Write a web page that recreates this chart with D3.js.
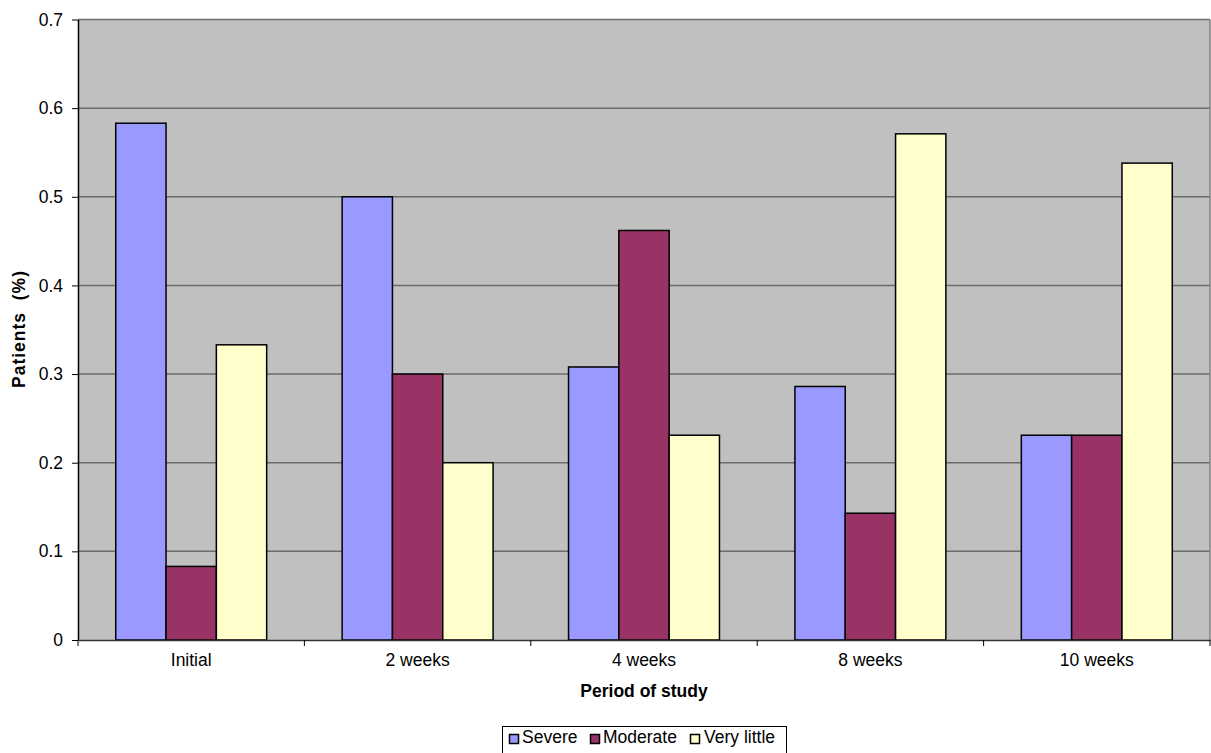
<!DOCTYPE html>
<html><head><meta charset="utf-8">
<script src="https://cdn.jsdelivr.net/npm/d3@7"></script>
<style>body{margin:0;background:#fff}svg{display:block}text{font-family:Arial,"Liberation Sans",sans-serif}</style>
</head><body>
<svg id="c" width="1211" height="753"></svg>
<script>
const categories = ["Initial","2 weeks","4 weeks","8 weeks","10 weeks"];
const seriesNames = ["Severe","Moderate","Very little"];
const severe = [0.583,0.5,0.308,0.286,0.231];
const moderate = [0.083,0.3,0.462,0.143,0.231];
const veryLittle = [0.333,0.2,0.231,0.571,0.538];
const colors = ["#9999FF","#993366","#FFFFCC"];
const yTicks = [0,0.1,0.2,0.3,0.4,0.5,0.6,0.7];

const series = [severe, moderate, veryLittle];
const FS = 17.5;
const svg = d3.select("#c");
const L=78, R=1210, T=19.5, B=640;
const x = d3.scaleBand().domain(categories).range([L,R]);
const y = d3.scaleLinear().domain([0,0.7]).range([B,T]);

svg.append("rect").attr("x",L).attr("y",T).attr("width",R-L).attr("height",B-T).attr("fill","#C0C0C0");
svg.append("g").selectAll("line").data(yTicks.slice(1)).join("line")
 .attr("x1",L).attr("x2",R).attr("y1",d=>y(d)).attr("y2",d=>y(d))
 .attr("stroke","#6b6b6b").attr("stroke-width",1.5);
svg.append("line").attr("x1",R).attr("x2",R).attr("y1",T).attr("y2",B).attr("stroke","#808080").attr("stroke-width",1.5);

const bw = x.bandwidth()/4.5;
const g = svg.append("g");
categories.forEach((c,i)=>{
  series.forEach((s,k)=>{
    g.append("rect")
     .attr("x", x(c) + bw*0.75 + k*bw)
     .attr("y", y(s[i]))
     .attr("width", bw)
     .attr("height", y(0)-y(s[i]))
     .attr("fill", colors[k]).attr("stroke","#000").attr("stroke-width",1.5);
  });
});

const yAxis = d3.axisLeft(y).tickValues(yTicks).tickFormat(d=>d===0?"0":d3.format(".1f")(d)).tickSize(6).tickSizeOuter(0).tickPadding(9);
const ya = svg.append("g").attr("transform",`translate(${L},0)`).call(yAxis);
ya.select(".domain").attr("stroke","#000").attr("stroke-width",1.5);
ya.selectAll(".tick line").attr("stroke","#000");
ya.selectAll("text").attr("font-size",FS).attr("fill","#000");

const xAxis = d3.axisBottom(x).tickSize(0).tickPadding(14);
const xa = svg.append("g").attr("transform",`translate(0,${B})`).call(xAxis);
xa.select(".domain").attr("stroke","#333").attr("stroke-width",1.5);
xa.selectAll("text").attr("font-size",FS).attr("fill","#000");
svg.append("g").selectAll("line").data(d3.range(categories.length+1)).join("line")
 .attr("x1",d=>L+d*x.step()).attr("x2",d=>L+d*x.step()).attr("y1",B).attr("y2",B+6)
 .attr("stroke","#000").attr("stroke-width",1);

svg.append("text").attr("x",(L+R)/2).attr("y",697).attr("text-anchor","middle")
 .attr("font-size",FS).attr("font-weight","bold").text("Period of study");
svg.append("text").attr("transform","translate(25,329) rotate(-90)").attr("text-anchor","middle")
 .attr("font-size",FS).attr("font-weight","bold").attr("letter-spacing",1).style("white-space","pre").text("Patients  (%)");

const lg = svg.append("g");
lg.append("rect").attr("x",502.5).attr("y",726.5).attr("width",284).attr("height",34).attr("fill","#fff").attr("stroke","#000").attr("stroke-width",1);
const items = [{x:509.5,tx:522},{x:590.5,tx:603},{x:690.5,tx:704}];
seriesNames.forEach((n,k)=>{
  lg.append("rect").attr("x",items[k].x).attr("y",734.5).attr("width",9).attr("height",9)
   .attr("fill",colors[k]).attr("stroke","#000").attr("stroke-width",1.5);
  lg.append("text").attr("x",items[k].tx).attr("y",743).attr("font-size",FS).text(n);
});
</script>
</body></html>
